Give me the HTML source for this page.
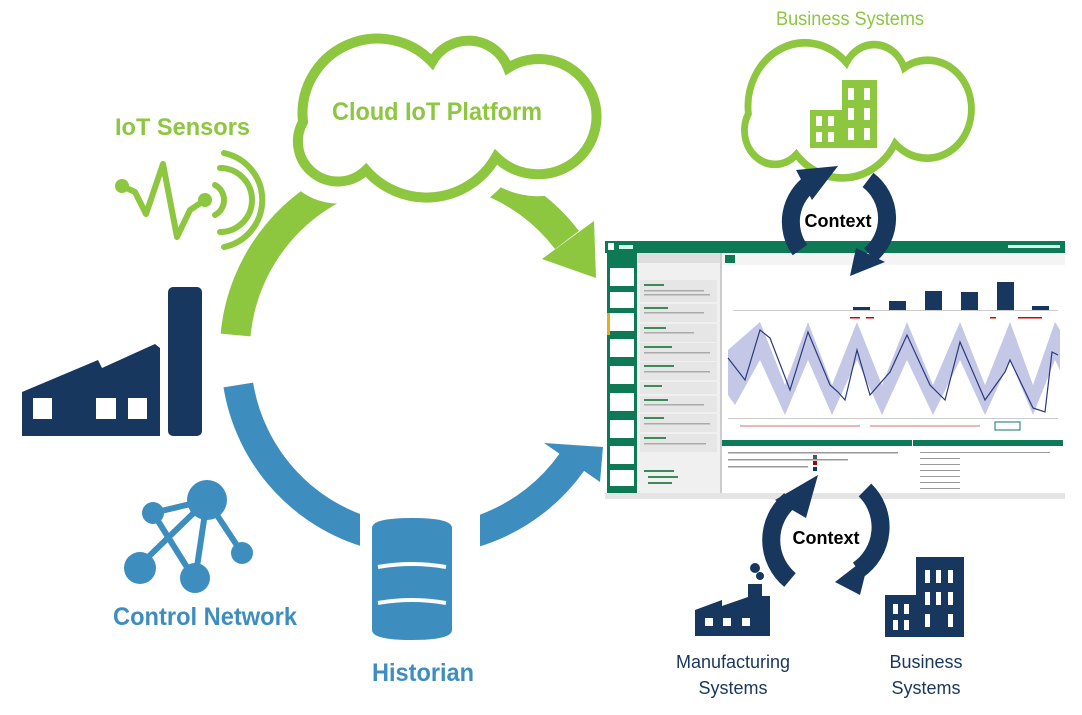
<!DOCTYPE html>
<html><head><meta charset="utf-8"><style>
html,body{margin:0;padding:0;background:#fff;}
svg{display:block;}
text{font-family:"Liberation Sans",Arial,sans-serif;}
</style></head><body>
<svg width="1082" height="715" viewBox="0 0 1082 715" xmlns="http://www.w3.org/2000/svg">
<defs>
<path id="cloud" d="M303 122 A75 75 0 0 1 432 62 A42 42 0 0 1 508 68 A56 56 0 0 1 570 165 A60 60 0 0 1 496 157 A80 80 0 0 1 366 170 A40 40 0 0 1 303 122 Z"/>
</defs>

<!-- main arcs -->
<path d="M235.6 335 A185 185 0 0 1 567 240" fill="none" stroke="#8dc63f" stroke-width="30"/>
<polygon points="594,221 542,259 596,278" fill="#8dc63f"/>
<path d="M238.3 385 A185 185 0 0 0 572 462" fill="none" stroke="#3d8ebf" stroke-width="30"/>
<polygon points="600,482 544,443 603,447" fill="#3d8ebf"/>

<!-- cloud 1 -->
<use href="#cloud" fill="#fff" stroke="#fff" stroke-width="44"/>
<use href="#cloud" fill="#fff" stroke="#8dc63f" stroke-width="10"/>
<text x="437" y="120" font-size="25" font-weight="bold" fill="#8dc63f" text-anchor="middle" textLength="210" lengthAdjust="spacingAndGlyphs">Cloud IoT Platform</text>

<!-- historian -->
<rect x="360" y="500" width="120" height="60" fill="#fff" transform="rotate(0)"/>
<path d="M372 528 Q372 518 412 518 Q452 518 452 528 L452 630 Q452 640 412 640 Q372 640 372 630 Z" fill="#3d8ebf"/>
<path d="M378 567 Q412 561 446 567" stroke="#fff" stroke-width="4" fill="none"/>
<path d="M378 603 Q412 597 446 603" stroke="#fff" stroke-width="4" fill="none"/>
<text x="423" y="681" font-size="25" font-weight="bold" fill="#3d8ebf" text-anchor="middle" textLength="102" lengthAdjust="spacingAndGlyphs">Historian</text>

<!-- IoT sensors -->
<text x="115" y="135" font-size="24" font-weight="bold" fill="#8dc63f" textLength="135" lengthAdjust="spacingAndGlyphs">IoT Sensors</text>
<g stroke="#8dc63f" stroke-width="6" fill="none" stroke-linecap="round" stroke-linejoin="round">
<polyline points="122,186 135,192 146,214 163,164 177,237 190,210 205,200"/>
<path d="M215 185 A17 17 0 0 1 215 215"/>
<path d="M220 168 A32 32 0 0 1 220 232"/>
<path d="M224 153 A48 48 0 0 1 224 247"/>
</g>
<circle cx="122" cy="186" r="7" fill="#8dc63f"/>
<circle cx="205" cy="200" r="7" fill="#8dc63f"/>

<!-- factory left -->
<rect x="168" y="287" width="34" height="149" rx="5" fill="#17375e"/>
<path d="M22 392 L98 360 L102 368 L155 344 L160 348 L160 436 L22 436 Z" fill="#17375e"/>
<rect x="33" y="398" width="19" height="21" fill="#fff"/>
<rect x="96" y="398" width="20" height="21" fill="#fff"/>
<rect x="128" y="398" width="19" height="21" fill="#fff"/>

<!-- control network -->
<g stroke="#3d8ebf" stroke-width="6">
<line x1="207" y1="500" x2="153" y2="513"/>
<line x1="207" y1="500" x2="195" y2="580"/>
<line x1="207" y1="500" x2="242" y2="553"/>
<line x1="153" y1="513" x2="195" y2="580"/>
<line x1="140" y1="565" x2="207" y2="500"/>
</g>
<g fill="#3d8ebf">
<circle cx="207" cy="500" r="20"/>
<circle cx="153" cy="513" r="11"/>
<circle cx="140" cy="568" r="16"/>
<circle cx="195" cy="578" r="15"/>
<circle cx="242" cy="553" r="11"/>
</g>
<text x="113" y="625" font-size="25" font-weight="bold" fill="#3d8ebf" textLength="184" lengthAdjust="spacingAndGlyphs">Control Network</text>

<!-- business systems cloud -->
<text x="850" y="25" font-size="19" fill="#8dc63f" text-anchor="middle" textLength="148" lengthAdjust="spacingAndGlyphs">Business Systems</text>
<g transform="translate(740,33) scale(0.76,0.85) translate(-292,-27)">
<use href="#cloud" fill="#fff" stroke="#8dc63f" stroke-width="9" vector-effect="non-scaling-stroke"/>
</g>
<rect x="842" y="80" width="35" height="68" fill="#8dc63f"/>
<rect x="810" y="110" width="34" height="38" fill="#8dc63f"/>
<g fill="#fff">
<rect x="848" y="88" width="6" height="12"/><rect x="864" y="88" width="6" height="12"/>
<rect x="848" y="108" width="6" height="12"/><rect x="864" y="108" width="6" height="12"/>
<rect x="848" y="128" width="6" height="12"/><rect x="864" y="128" width="6" height="12"/>
<rect x="816" y="116" width="6" height="10"/><rect x="828" y="116" width="6" height="10"/>
<rect x="816" y="132" width="6" height="10"/><rect x="828" y="132" width="6" height="10"/>
</g>

<!-- screenshot -->
<g>
<rect x="605" y="240" width="460" height="259" fill="#fff"/>
<rect x="605" y="241" width="460" height="12" fill="#0e7a55"/>
<rect x="608" y="243" width="6" height="7" fill="#fff"/>
<rect x="619" y="245" width="14" height="4" fill="#cfe"/>
<rect x="1008" y="245" width="52" height="3" fill="#cfe"/>
<rect x="607" y="253" width="30" height="240" fill="#0e7a55"/>
<g fill="#fff">
<rect x="610" y="268" width="24" height="18"/><rect x="610" y="292" width="24" height="16"/>
<rect x="610" y="313" width="24" height="18"/><rect x="610" y="339" width="24" height="18"/>
<rect x="610" y="366" width="24" height="18"/><rect x="610" y="393" width="24" height="18"/>
<rect x="610" y="420" width="24" height="18"/><rect x="610" y="446" width="24" height="18"/>
<rect x="610" y="470" width="24" height="16"/>
</g>
<rect x="607" y="313" width="3" height="22" fill="#e0b020"/>
<rect x="637" y="253" width="83" height="240" fill="#f0f0f0"/>
<rect x="637" y="253" width="83" height="10" fill="#ddd"/>
<g fill="#e6e6e6">
<rect x="640" y="280" width="77" height="22"/><rect x="640" y="304" width="77" height="18"/>
<rect x="640" y="324" width="77" height="18"/><rect x="640" y="343" width="77" height="18"/>
<rect x="640" y="362" width="77" height="18"/><rect x="640" y="382" width="77" height="12"/>
<rect x="640" y="396" width="77" height="16"/><rect x="640" y="414" width="77" height="18"/>
<rect x="640" y="434" width="77" height="18"/>
</g>
<g fill="#3a8a5a">
<rect x="644" y="284" width="20" height="2"/><rect x="644" y="307" width="24" height="2"/>
<rect x="644" y="327" width="22" height="2"/><rect x="644" y="346" width="28" height="2"/>
<rect x="644" y="365" width="30" height="2"/><rect x="644" y="385" width="18" height="2"/>
<rect x="644" y="399" width="24" height="2"/><rect x="644" y="417" width="20" height="2"/>
<rect x="644" y="437" width="22" height="2"/><rect x="644" y="470" width="30" height="2"/>
<rect x="648" y="476" width="30" height="2"/><rect x="648" y="482" width="24" height="2"/>
</g>
<g fill="#aaa">
<rect x="644" y="290" width="60" height="1.5"/><rect x="644" y="294" width="66" height="1.5"/>
<rect x="644" y="312" width="60" height="1.5"/><rect x="644" y="332" width="50" height="1.5"/>
<rect x="644" y="352" width="66" height="1.5"/><rect x="644" y="371" width="66" height="1.5"/>
<rect x="644" y="404" width="60" height="1.5"/><rect x="644" y="423" width="66" height="1.5"/>
<rect x="644" y="443" width="62" height="1.5"/>
</g>
<rect x="720" y="253" width="2" height="240" fill="#ccc"/>
<rect x="722" y="253" width="343" height="12" fill="#f4f4f4"/>
<rect x="725" y="255" width="10" height="8" fill="#0e7a55"/>
<!-- bars -->
<g fill="#17375e">
<rect x="853" y="307" width="17" height="3"/><rect x="889" y="301" width="17" height="9"/>
<rect x="925" y="291" width="17" height="19"/><rect x="961" y="292" width="17" height="18"/>
<rect x="997" y="282" width="17" height="28"/><rect x="1032" y="306" width="17" height="4"/>
</g>
<rect x="733" y="310" width="325" height="1" fill="#ccc"/>
<g fill="#d00">
<rect x="850" y="317" width="10" height="1.5"/><rect x="866" y="317" width="8" height="1.5"/>
<rect x="990" y="317" width="6" height="1.5"/><rect x="1018" y="317" width="24" height="1.5"/>
</g>
<!-- wave -->
<polygon fill="#c4c8e6" points="728,350 760,322 785,385 808,322 832,385 857,322 882,385 907,322 933,385 960,322 985,385 1010,322 1033,385 1055,322 1060,330 1060,370 1055,360 1033,415 1010,360 985,415 960,360 933,415 907,360 882,415 857,360 832,415 808,360 785,415 760,360 735,405 728,395"/>
<polyline fill="none" stroke="#2a3a7a" stroke-width="1.2" points="728,358 745,380 760,330 770,338 790,390 808,332 830,385 838,392 845,400 857,350 870,395 890,372 907,335 930,385 945,400 960,342 985,400 1005,372 1010,360 1033,408 1045,412 1052,352 1058,355"/>
<rect x="728" y="418" width="330" height="1" fill="#ccc"/>
<g fill="#e8b8b8"><rect x="740" y="425" width="120" height="2"/><rect x="870" y="425" width="110" height="2"/></g>
<rect x="995" y="422" width="25" height="8" fill="none" stroke="#0e7a55" stroke-width="1"/>
<!-- bottom panels -->
<rect x="722" y="440" width="190" height="6" fill="#0e7a55"/>
<rect x="913" y="440" width="150" height="6" fill="#0e7a55"/>
<g fill="#999">
<rect x="728" y="452" width="170" height="1.5"/><rect x="728" y="459" width="120" height="1.5"/><rect x="728" y="466" width="80" height="1.5"/>
<rect x="920" y="452" width="130" height="1"/><rect x="920" y="458" width="40" height="1"/><rect x="920" y="464" width="40" height="1"/>
<rect x="920" y="470" width="40" height="1"/><rect x="920" y="476" width="40" height="1"/><rect x="920" y="482" width="40" height="1"/>
<rect x="920" y="488" width="40" height="1"/>
</g>
<rect x="813" y="455" width="4" height="4" fill="#556"/><rect x="813" y="461" width="4" height="4" fill="#a00"/><rect x="813" y="467" width="4" height="4" fill="#17375e"/>
<rect x="605" y="493" width="460" height="6" fill="#e4e4e4"/>
</g>

<!-- context top -->
<g fill="none" stroke="#17375e" stroke-width="18">
<path d="M800 250 A48 48 0 0 1 812 182"/>
<path d="M868 180 A48 48 0 0 1 870 255"/>
</g>
<polygon points="796,170 838,166 812,200" fill="#17375e"/>
<polygon points="856,248 885,262 850,276" fill="#17375e"/>
<text x="838" y="227" font-size="18" font-weight="bold" fill="#000" text-anchor="middle">Context</text>

<!-- context bottom -->
<g fill="none" stroke="#17375e" stroke-width="18">
<path d="M790 580 A52 52 0 0 1 790 500"/>
<path d="M865 490 A52 52 0 0 1 858 570"/>
</g>
<polygon points="775,500 818,475 806,518" fill="#17375e"/>
<polygon points="870,555 860,595 835,582" fill="#17375e"/>
<text x="826" y="544" font-size="18" font-weight="bold" fill="#000" text-anchor="middle">Context</text>

<!-- manufacturing factory -->
<path d="M695 610 L722 600 L722 606 L748 597 L748 584 L762 584 L762 596 L770 596 L770 636 L695 636 Z" fill="#17375e"/>
<circle cx="755" cy="568" r="5" fill="#17375e"/><circle cx="760" cy="576" r="4" fill="#17375e"/>
<g fill="#fff"><rect x="705" y="618" width="8" height="8"/><rect x="723" y="618" width="8" height="8"/><rect x="742" y="618" width="8" height="8"/></g>
<text x="733" y="668" font-size="18" fill="#17375e" text-anchor="middle">Manufacturing</text>
<text x="733" y="694" font-size="18" fill="#17375e" text-anchor="middle">Systems</text>

<!-- business building -->
<rect x="916" y="557" width="48" height="80" fill="#17375e"/>
<rect x="885" y="595" width="33" height="42" fill="#17375e"/>
<g fill="#fff">
<rect x="925" y="570" width="5" height="13"/><rect x="936" y="570" width="5" height="13"/><rect x="948" y="570" width="5" height="13"/>
<rect x="925" y="592" width="5" height="13"/><rect x="936" y="592" width="5" height="13"/><rect x="948" y="592" width="5" height="13"/>
<rect x="925" y="614" width="5" height="13"/><rect x="948" y="614" width="5" height="13"/>
<rect x="893" y="604" width="5" height="10"/><rect x="904" y="604" width="5" height="10"/>
<rect x="893" y="620" width="5" height="10"/><rect x="904" y="620" width="5" height="10"/>
</g>
<text x="926" y="668" font-size="18" fill="#17375e" text-anchor="middle">Business</text>
<text x="926" y="694" font-size="18" fill="#17375e" text-anchor="middle">Systems</text>
</svg>
</body></html>
